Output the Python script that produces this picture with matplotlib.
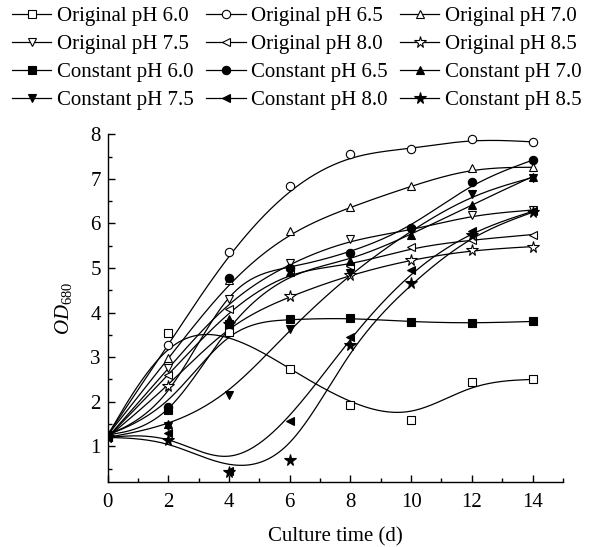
import numpy as np
import matplotlib
matplotlib.use("Agg")
import matplotlib.pyplot as plt
from matplotlib.lines import Line2D

plt.rcParams["font.family"] = ["Liberation Serif", "DejaVu Serif"]
plt.rcParams["mathtext.fontset"] = "custom"
plt.rcParams["mathtext.rm"] = "Liberation Serif"
plt.rcParams["mathtext.it"] = "Liberation Serif:italic"

days = [0, 2, 4, 6, 8, 10, 12, 14]

orig_60 = [1.25, 3.55, 3.57, 2.74, 1.93, 1.59, 2.44, 2.50]
orig_65 = [1.25, 3.28, 5.36, 6.83, 7.56, 7.67, 7.90, 7.83]
orig_70 = [1.25, 2.97, 4.72, 5.82, 6.37, 6.84, 7.25, 7.26]
orig_75 = [1.20, 2.75, 4.30, 5.12, 5.64, 5.84, 6.19, 6.30]
orig_80 = [1.20, 2.60, 4.08, 4.95, 5.05, 5.46, 5.63, 5.75]
orig_85 = [1.20, 2.35, 3.75, 4.37, 4.85, 5.19, 5.40, 5.48]
const_60 = [1.25, 1.82, 3.75, 3.85, 3.88, 3.79, 3.76, 3.80]
const_65 = [1.25, 1.88, 4.78, 5.00, 5.34, 5.90, 6.92, 7.42]
const_70 = [1.25, 1.50, 3.85, 4.92, 5.16, 5.75, 6.42, 7.05]
const_75 = [1.20, 1.45, 2.14, 3.63, 4.88, 5.85, 6.65, 7.03]
const_80 = [1.20, 1.30, 0.45, 1.57, 3.46, 4.95, 5.83, 6.27]
const_85 = [1.20, 1.15, 0.43, 0.70, 3.28, 4.66, 5.75, 6.25]

labels = [
    "Original pH 6.0", "Original pH 6.5", "Original pH 7.0",
    "Original pH 7.5", "Original pH 8.0", "Original pH 8.5",
    "Constant pH 6.0", "Constant pH 6.5", "Constant pH 7.0",
    "Constant pH 7.5", "Constant pH 8.0", "Constant pH 8.5",
]
series = [orig_60, orig_65, orig_70, orig_75, orig_80, orig_85,
          const_60, const_65, const_70, const_75, const_80, const_85]
markers = ["s", "o", "^", "v", "<", "*"] * 2
filled = [False] * 6 + [True] * 6


def bspline(x, y, n=40):
    # uniform cubic B-spline, data points used as control points (clamped ends)
    px = np.r_[x[0], x[0], x, x[-1], x[-1]].astype(float)
    py = np.r_[y[0], y[0], y, y[-1], y[-1]].astype(float)
    t = np.linspace(0, 1, n)
    b0 = (1 - t) ** 3 / 6
    b1 = (3 * t**3 - 6 * t**2 + 4) / 6
    b2 = (-3 * t**3 + 3 * t**2 + 3 * t + 1) / 6
    b3 = t**3 / 6
    xs, ys = [], []
    for i in range(len(px) - 3):
        xs.append(b0 * px[i] + b1 * px[i + 1] + b2 * px[i + 2] + b3 * px[i + 3])
        ys.append(b0 * py[i] + b1 * py[i + 1] + b2 * py[i + 2] + b3 * py[i + 3])
    return np.concatenate(xs), np.concatenate(ys)


fig = plt.figure(figsize=(5.95, 5.47), dpi=100)
ax = fig.add_axes([0.181, 0.119, 0.765, 0.6355])

handles = []
for y, lab, m, f in zip(series, labels, markers, filled):
    xs, ys = bspline(np.array(days), np.array(y))
    ax.plot(xs, ys, color="black", linewidth=0.9, zorder=2)
    ms = 8.5 if m == "*" else 6
    style = dict(marker=m, markersize=ms, markeredgecolor="black",
                 markerfacecolor="black" if f else "white", markeredgewidth=0.8)
    ax.plot(days, y, linestyle="none", zorder=3, **style)
    handles.append(Line2D([], [], color="black", linewidth=0.9, label=lab, **style))

ax.set_xlim(0, 15)
ax.set_ylim(0.2, 8)
ax.set_xticks(range(0, 15, 2))
ax.set_xticks(range(1, 16, 2), minor=True)
ax.set_yticks(range(1, 9))
ax.set_yticks(np.arange(0.5, 8.0, 1.0), minor=True)
ax.spines["top"].set_visible(False)
ax.spines["right"].set_visible(False)
for s in ("left", "bottom"):
    ax.spines[s].set_linewidth(1.0)
ax.tick_params(which="both", direction="in", width=1.0, labelsize=15, pad=5)
ax.tick_params(axis="x", which="both", pad=8)
ax.tick_params(which="major", length=5)
ax.tick_params(which="minor", length=3)

ax.set_xlabel("Culture time (d)", fontsize=15, labelpad=11)
ax.set_ylabel(r"$OD_{\mathrm{680}}$", fontsize=15)
ax.yaxis.set_label_coords(-0.075, 0.5)

order = [0, 3, 6, 9, 1, 4, 7, 10, 2, 5, 8, 11]
fig.legend([handles[i] for i in order], [labels[i] for i in order],
           ncol=3, loc="upper left", bbox_to_anchor=(0.02, 0.988),
           frameon=False, fontsize=15, handlelength=1.9, handletextpad=0.25,
           columnspacing=0.6, labelspacing=0.4, borderpad=0, borderaxespad=0)

fig.savefig("out.png", dpi=100)
